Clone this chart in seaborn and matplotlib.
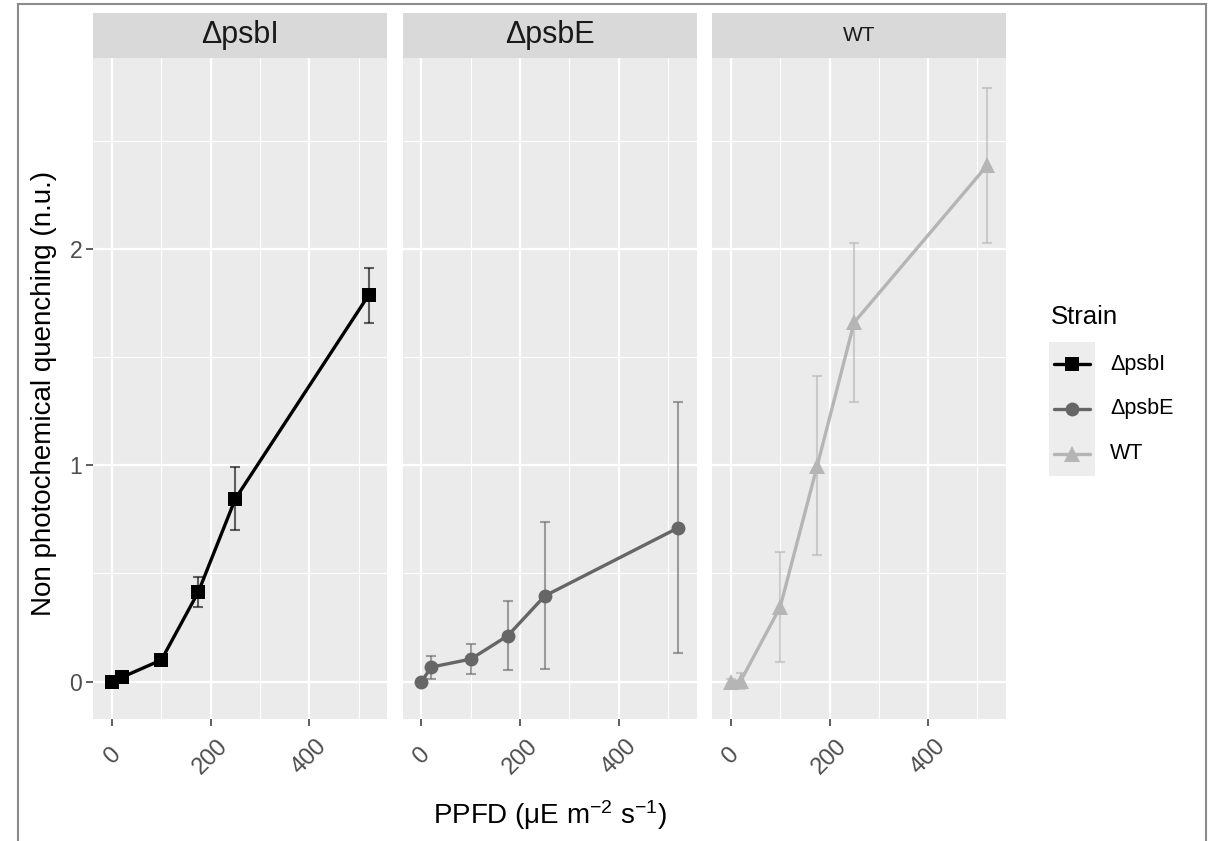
import numpy as np
import pandas as pd
import matplotlib
matplotlib.use("Agg")
import matplotlib.pyplot as plt
from matplotlib.lines import Line2D
from matplotlib.patches import Rectangle
import seaborn as sns

# ---- data -------------------------------------------------------------
strains = ["ΔpsbI", "ΔpsbE", "WT"]
ppfd = [0, 20, 100, 175, 250, 520]

npq_psbI = [0.0, 0.02, 0.10, 0.415, 0.845, 1.785]
sd_psbI = [0.01, 0.01, 0.015, 0.07, 0.145, 0.128]

npq_psbE = [0.0, 0.067, 0.104, 0.212, 0.396, 0.71]
sd_psbE = [0.01, 0.053, 0.071, 0.16, 0.34, 0.58]

npq_wt = [0.0, 0.003, 0.345, 0.997, 1.66, 2.386]
sd_wt = [0.01, 0.037, 0.254, 0.413, 0.3675, 0.357]

x_ticks = [0, 200, 400]
y_ticks = [0, 1, 2]

colors = ["#000000", "#666666", "#B5B5B5"]
markers = ["s", "o", "^"]
marker_sizes = [10.0, 10.0, 11.5]

frames = []
for s, m, e in zip(strains, [npq_psbI, npq_psbE, npq_wt], [sd_psbI, sd_psbE, sd_wt]):
    frames.append(pd.DataFrame({"Strain": s, "PPFD": ppfd, "NPQ": m, "SD": e}))
df = pd.concat(frames, ignore_index=True)

# ---- style ------------------------------------------------------------
sns.set_theme(style="darkgrid", rc={"axes.facecolor": "#EBEBEB", "grid.color": "white"})
plt.rcParams["font.family"] = ["Liberation Sans", "DejaVu Sans"]
plt.rcParams["mathtext.fontset"] = "custom"
plt.rcParams["mathtext.rm"] = "Liberation Sans"
plt.rcParams["mathtext.it"] = "Liberation Sans:italic"
plt.rcParams["mathtext.bf"] = "Liberation Sans:bold"

W, H = 1211, 841
fig = plt.figure(figsize=(W / 100, H / 100), dpi=100)
fig.patch.set_facecolor("white")


def fx(px):
    return px / W


def fy(py):
    return 1 - py / H


panel_left = 93.3
panel_w = 294.0
gap = 15.4
panel_top = 58.0
panel_bot = 719.0
strip_top = 12.7

# limits: data range incl. error-bar caps, expanded by 5 %
cap_w = 22
xlo, xhi = min(ppfd) - cap_w / 2, max(ppfd) + cap_w / 2
xpad = 0.05 * (xhi - xlo)
ylo = (df.NPQ - df.SD).min()
yhi = (df.NPQ + df.SD).max()
ypad = 0.05 * (yhi - ylo)

tick_col = "#4D4D4D"
strip_sizes = [22, 22, 15]

for i, (s, c, mk, ms) in enumerate(zip(strains, colors, markers, marker_sizes)):
    left = panel_left + i * (panel_w + gap)
    ax = fig.add_axes([fx(left), fy(panel_bot), fx(panel_w), (panel_bot - panel_top) / H])
    ax.set_facecolor("#EBEBEB")
    sub = df[df.Strain == s]

    ax.errorbar(sub.PPFD, sub.NPQ, yerr=sub.SD, fmt="none", ecolor=c, alpha=0.6,
                elinewidth=1.5, capsize=3.9, capthick=1.5, zorder=2)
    sns.lineplot(data=sub, x="PPFD", y="NPQ", color=c, marker=mk, markersize=ms,
                 markeredgewidth=0, linewidth=2.4, ax=ax, errorbar=None,
                 legend=False, zorder=3)

    ax.set_xlim(xlo - xpad, xhi + xpad)
    ax.set_ylim(ylo - ypad, yhi + ypad)
    ax.set_xticks(x_ticks)
    ax.set_xticks([100, 300, 500], minor=True)
    ax.set_yticks(y_ticks)
    ax.set_yticks([0.5, 1.5, 2.5], minor=True)
    ax.grid(which="major", color="white", linewidth=1.6)
    ax.grid(which="minor", color="white", linewidth=0.8)
    ax.set_axisbelow(True)
    for sp in ax.spines.values():
        sp.set_visible(False)
    ax.set_xlabel("")
    ax.set_ylabel("")

    ax.tick_params(axis="x", which="major", bottom=True, length=5, width=1.1,
                   color="#333333", direction="out", pad=22, labelsize=17,
                   labelcolor=tick_col)
    ax.tick_params(which="minor", length=0)
    for lab in ax.get_xticklabels():
        lab.set_rotation(45)
        lab.set_ha("center")
        lab.set_va("center")
        lab.set_rotation_mode("anchor")
    if i == 0:
        ax.tick_params(axis="y", which="major", left=True, length=5, width=1.1,
                       color="#333333", direction="out", pad=3, labelsize=16.5,
                       labelcolor=tick_col)
    else:
        ax.tick_params(axis="y", which="major", left=False, labelleft=False)

    # facet strip
    sax = fig.add_axes([fx(left), fy(panel_top), fx(panel_w), (panel_top - strip_top) / H])
    sax.set_facecolor("#D9D9D9")
    sax.set_xticks([])
    sax.set_yticks([])
    sax.grid(False)
    for sp in sax.spines.values():
        sp.set_visible(False)
    sax.text(0.5, 0.5, s, ha="center", va="center", fontsize=strip_sizes[i],
             color="#1A1A1A", transform=sax.transAxes)

# axis titles
fig.text(fx(44), fy(393), "Non photochemical quenching (n.u.)",
         rotation=90, ha="center", va="center", fontsize=20, color="black")
fig.text(fx(panel_left + (3 * panel_w + 2 * gap) / 2), fy(824),
         "PPFD (μE m$^{-2}$ s$^{-1}$)", ha="center", va="baseline",
         fontsize=20, color="black")

# legend
fig.text(fx(1051), fy(324), "Strain", va="baseline", ha="left", fontsize=18.5,
         color="black")
key_top, key_h = 341.7, 44.8
fig.add_artist(Rectangle((fx(1049), fy(key_top + 3 * key_h)), fx(46), 3 * key_h / H,
                         transform=fig.transFigure, facecolor="#EDEDED",
                         edgecolor="none"))
for i, (s, c, mk, ms) in enumerate(zip(strains, colors, markers, marker_sizes)):
    yc = key_top + key_h * (i + 0.5)
    fig.add_artist(Line2D([fx(1054), fx(1090)], [fy(yc), fy(yc)], color=c,
                          linewidth=2.4, transform=fig.transFigure))
    fig.add_artist(Line2D([fx(1072)], [fy(yc)], color=c, marker=mk, markersize=ms,
                          markeredgewidth=0, linestyle="none",
                          transform=fig.transFigure))
    fig.text(fx(1110), fy(yc), s, va="center", ha="left", fontsize=15.5,
             color="black")

# outer frame
fig.add_artist(Rectangle((fx(18), -0.02), fx(1206 - 18), fy(4) + 0.02,
                         transform=fig.transFigure, fill=False,
                         edgecolor="#8C8C8C", linewidth=1.5))

fig.savefig("out.png", dpi=100)
